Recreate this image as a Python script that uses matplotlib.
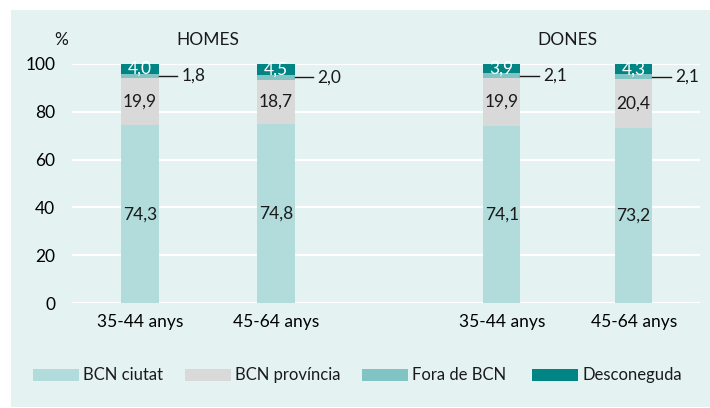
import numpy as np
import matplotlib.pyplot as plt
from matplotlib.patches import Rectangle

plt.rcParams['font.family'] = ['Lato', 'DejaVu Sans']

# data (%)
groups = ['HOMES', 'DONES']
ages = ['35-44 anys', '45-64 anys', '35-44 anys', '45-64 anys']
series = ['BCN ciutat', 'BCN província', 'Fora de BCN', 'Desconeguda']
bcn_ciutat = [74.3, 74.8, 74.1, 73.2]
bcn_provincia = [19.9, 18.7, 19.9, 20.4]
fora_bcn = [1.8, 2.0, 2.1, 2.1]
desconeguda = [4.0, 4.5, 3.9, 4.3]

colors = ['#b2dcdc', '#d9d9d9', '#80c4c4', '#008584']
bg = '#e4f2f1'
fs = 12.5

xpos = np.array([0, 1.015, 2.70, 3.685])
width = 0.28

fig = plt.figure(figsize=(7.1, 4.08), dpi=100)
fig.patch.set_facecolor('white')

# tinted panel behind everything
bgax = fig.add_axes([0, 0, 1, 1], zorder=-1)
bgax.axis('off')
bgax.add_patch(Rectangle((11 / 710, 1 / 408), 699 / 710, 397 / 408,
                         transform=bgax.transAxes, facecolor=bg, edgecolor='none'))

ax = fig.add_axes([72 / 710, 1 - 303 / 408, 628 / 710, 239 / 408])
ax.set_facecolor('none')
for s in ax.spines.values():
    s.set_visible(False)

ax.set_ylim(0, 100)
ax.set_xlim(-0.507, 4.18)
ax.set_yticks(range(0, 101, 20))
ax.yaxis.grid(True, color='white', lw=1.6)
ax.set_axisbelow(True)
ax.tick_params(axis='y', length=0, pad=12, labelsize=fs)
ax.tick_params(axis='x', length=0, pad=8, labelsize=fs)
ax.set_xticks(xpos)
ax.set_xticklabels(ages)

stacks = [bcn_ciutat, bcn_provincia, fora_bcn, desconeguda]
bottom = np.zeros(len(xpos))
for vals, col in zip(stacks, colors):
    ax.bar(xpos, vals, width, bottom=bottom, color=col, zorder=2)
    bottom += np.array(vals)

for i, x in enumerate(xpos):
    c, p, f, d = bcn_ciutat[i], bcn_provincia[i], fora_bcn[i], desconeguda[i]
    ax.text(x, c / 2, f'{c:.1f}'.replace('.', ','), ha='center', va='center',
            fontsize=fs, color='#1a1a1a', zorder=3)
    ax.text(x, c + p / 2, f'{p:.1f}'.replace('.', ','), ha='center', va='center',
            fontsize=fs, color='#1a1a1a', zorder=3)
    ax.text(x, c + p + f + d / 2, f'{d:.1f}'.replace('.', ','), ha='center',
            va='center', fontsize=fs, color='white', zorder=3)
    ym = c + p + f / 2
    ax.plot([x + width / 2, x + width / 2 + 0.14], [ym, ym], color='#1a1a1a',
            lw=1, zorder=3, clip_on=False)
    ax.text(x + width / 2 + 0.17, ym, f'{f:.1f}'.replace('.', ','), ha='left',
            va='center', fontsize=fs, color='#1a1a1a', zorder=3)

ax.text(-0.59, 110, '%', ha='center', va='center', fontsize=fs, color='#1a1a1a')
for g, (a, b) in zip(groups, [(0, 1), (2, 3)]):
    ax.text((xpos[a] + xpos[b]) / 2, 110, g, ha='center', va='center',
            fontsize=fs, color='#1a1a1a')

# legend drawn by hand: swatch then label, one slot per series
leg_x = [33, 185, 362, 532]
for lx, name, col in zip(leg_x, series, colors):
    bgax.add_patch(Rectangle((lx / 710, 1 - 381 / 408), 46 / 710, 12 / 408,
                             transform=bgax.transAxes, facecolor=col, edgecolor='none'))
    bgax.text((lx + 50) / 710, 1 - 375 / 408, name, transform=bgax.transAxes,
              ha='left', va='center', fontsize=12, color='#1a1a1a')

fig.savefig('out.png', dpi=100, facecolor='white')
